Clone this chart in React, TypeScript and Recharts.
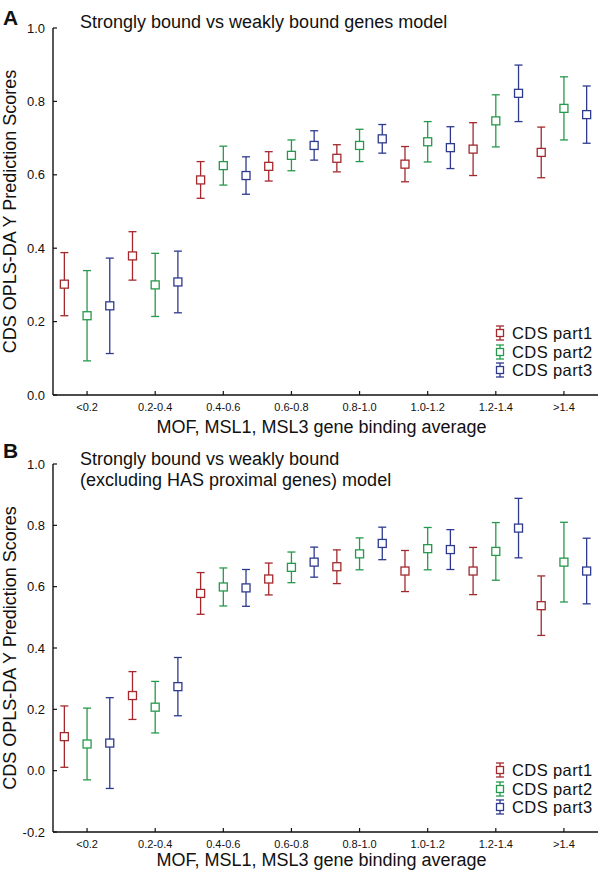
import { ScatterChart, Scatter, XAxis, YAxis, ErrorBar, Legend } from 'recharts'

const groups = ['<0.2', '0.2-0.4', '0.4-0.6', '0.6-0.8', '0.8-1.0', '1.0-1.2', '1.2-1.4', '>1.4']
const parts = ['CDS part1', 'CDS part2', 'CDS part3']
const colors = ['#a3292c', '#26994c', '#2d3a8e']
const offsets = [-1 / 3, 0, 1 / 3]

// panel A: strongly vs weakly bound genes
const aPart1 = [0.302, 0.379, 0.586, 0.623, 0.645, 0.629, 0.67, 0.661]
const aPart1Err = [0.086, 0.066, 0.05, 0.04, 0.037, 0.048, 0.072, 0.069]
const aPart2 = [0.216, 0.3, 0.625, 0.653, 0.68, 0.69, 0.747, 0.781]
const aPart2Err = [0.123, 0.086, 0.053, 0.042, 0.044, 0.055, 0.071, 0.086]
const aPart3 = [0.243, 0.308, 0.598, 0.68, 0.698, 0.674, 0.822, 0.764]
const aPart3Err = [0.13, 0.084, 0.051, 0.04, 0.039, 0.057, 0.077, 0.078]

// panel B: excluding HAS proximal genes
const bPart1 = [0.111, 0.245, 0.578, 0.625, 0.665, 0.651, 0.651, 0.538]
const bPart1Err = [0.1, 0.078, 0.068, 0.052, 0.055, 0.067, 0.077, 0.097]
const bPart2 = [0.087, 0.207, 0.599, 0.663, 0.707, 0.724, 0.715, 0.68]
const bPart2Err = [0.117, 0.084, 0.062, 0.05, 0.052, 0.069, 0.094, 0.13]
const bPart3 = [0.09, 0.274, 0.596, 0.68, 0.741, 0.721, 0.791, 0.651]
const bPart3Err = [0.148, 0.095, 0.06, 0.049, 0.053, 0.065, 0.097, 0.107]

const aTicks = [0, 0.2, 0.4, 0.6, 0.8, 1.0]
const bTicks = [-0.2, 0, 0.2, 0.4, 0.6, 0.8, 1.0]

const font = "'Liberation Sans', Arial, Helvetica, sans-serif"

function toPoints(values: number[], errs: number[], part: number) {
  return values.map((y, i) => ({ x: i + offsets[part], y, err: errs[i] }))
}

function YTick({ x, y, payload }: any) {
  return (
    <g>
      <line x1={x} x2={x + 4} y1={y} y2={y} stroke="#111" strokeWidth={1.2} />
      <text x={x - 8} y={y} dy={4.6} textAnchor="end" fontSize={13} fontFamily={font} fill="#111">
        {Number(payload.value).toFixed(1)}
      </text>
    </g>
  )
}

function XTick({ x, y, payload }: any) {
  return (
    <g>
      <line x1={x} x2={x} y1={y} y2={y - 4} stroke="#111" strokeWidth={1.2} />
      <text x={x} y={y + 16} textAnchor="middle" fontSize={11} fontFamily={font} fill="#111">
        {groups[payload.value]}
      </text>
    </g>
  )
}

function LegendBox() {
  return (
    <div style={{ fontFamily: font, fontSize: 16.5, lineHeight: '18.5px', color: '#111' }}>
      {parts.map((p, i) => (
        <div key={p} style={{ display: 'flex', alignItems: 'center', height: 18.5 }}>
          <svg width={14} height={18} style={{ marginRight: 5, flex: 'none' }}>
            <line x1={7} x2={7} y1={2} y2={16} stroke={colors[i]} strokeWidth={1.3} />
            <line x1={3} x2={11} y1={2} y2={2} stroke={colors[i]} strokeWidth={1.3} />
            <line x1={3} x2={11} y1={16} y2={16} stroke={colors[i]} strokeWidth={1.3} />
            <rect x={3.5} y={5.5} width={7} height={7} fill="#fff" stroke={colors[i]} strokeWidth={1.3} />
          </svg>
          <span style={{ whiteSpace: 'nowrap', letterSpacing: 0.4 }}>{p}</span>
        </div>
      ))}
    </div>
  )
}

interface PanelProps {
  top: number
  height: number
  plotTop: number
  plotBottom: number
  domain: [number, number]
  ticks: number[]
  series: Array<{ values: number[]; errs: number[] }>
  legendTop: number
}

function Panel({ top, height, plotTop, plotBottom, domain, ticks, series, legendTop }: PanelProps) {
  return (
    <div style={{ position: 'absolute', left: 0, top, width: 600, height }}>
      <ScatterChart
        width={600}
        height={height}
        margin={{ top: plotTop, right: 2, bottom: 0, left: 0 }}
        style={{ fontFamily: font }}
      >
        <XAxis
          type="number"
          dataKey="x"
          domain={[-0.5, 7.5]}
          ticks={[0, 1, 2, 3, 4, 5, 6, 7]}
          height={height - plotBottom}
          tickSize={0}
          tickMargin={0}
          tickLine={false}
          tick={<XTick />}
          stroke="#111"
          strokeWidth={1.4}
          allowDataOverflow
          label={{
            value: 'MOF, MSL1, MSL3 gene binding average',
            position: 'insideBottom',
            offset: 7,
            fill: '#111',
            fontSize: 18,
            dx: -4,
          }}
        />
        <YAxis
          type="number"
          dataKey="y"
          domain={domain}
          ticks={ticks}
          width={53}
          tickSize={0}
          tickMargin={0}
          tickLine={false}
          tick={<YTick />}
          stroke="#111"
          strokeWidth={1.4}
          allowDataOverflow
          label={{
            value: 'CDS OPLS-DA Y Prediction Scores',
            angle: -90,
            position: 'insideLeft',
            offset: 10,
            fill: '#111',
            fontSize: 18,
            style: { textAnchor: 'middle' },
          }}
        />
        {series.map((s, i) => (
          <Scatter
            key={parts[i]}
            name={parts[i]}
            data={toPoints(s.values, s.errs, i)}
            fill={colors[i]}
            isAnimationActive={false}
            shape={(p: any) => (
              <rect
                x={p.cx - 4}
                y={p.cy - 4}
                width={8}
                height={8}
                fill="#fff"
                stroke={colors[i]}
                strokeWidth={1.3}
              />
            )}
          >
            <ErrorBar dataKey="err" direction="y" width={4} stroke={colors[i]} strokeWidth={1.3} />
          </Scatter>
        ))}
        <Legend
          layout="horizontal"
          verticalAlign="middle"
          align="center"
          content={<LegendBox />}
          wrapperStyle={{ left: 493, top: legendTop, width: 110 }}
        />
      </ScatterChart>
    </div>
  )
}

export default function App() {
  return (
    <div style={{ position: 'absolute', left: 0, top: 0, width: 600, height: 873, background: '#fff' }}>
      <Panel
        top={0}
        height={440}
        plotTop={28}
        plotBottom={395}
        domain={[0, 1]}
        ticks={aTicks}
        series={[
          { values: aPart1, errs: aPart1Err },
          { values: aPart2, errs: aPart2Err },
          { values: aPart3, errs: aPart3Err },
        ]}
        legendTop={324}
      />
      <Panel
        top={440}
        height={433}
        plotTop={24}
        plotBottom={392}
        domain={[-0.2, 1]}
        ticks={bTicks}
        series={[
          { values: bPart1, errs: bPart1Err },
          { values: bPart2, errs: bPart2Err },
          { values: bPart3, errs: bPart3Err },
        ]}
        legendTop={321}
      />
      <svg
        width={600}
        height={873}
        style={{ position: 'absolute', left: 0, top: 0, pointerEvents: 'none' }}
        fontFamily={font}
        fill="#111"
      >
        <text x={3} y={25} fontSize={21} fontWeight="bold">A</text>
        <text x={80} y={28} fontSize={18}>Strongly bound vs weakly bound genes model</text>
        <text x={3} y={458} fontSize={21} fontWeight="bold">B</text>
        <text x={80} y={465} fontSize={18}>Strongly bound vs weakly bound</text>
        <text x={80} y={486} fontSize={18}>(excluding HAS proximal genes) model</text>
      </svg>
    </div>
  )
}
